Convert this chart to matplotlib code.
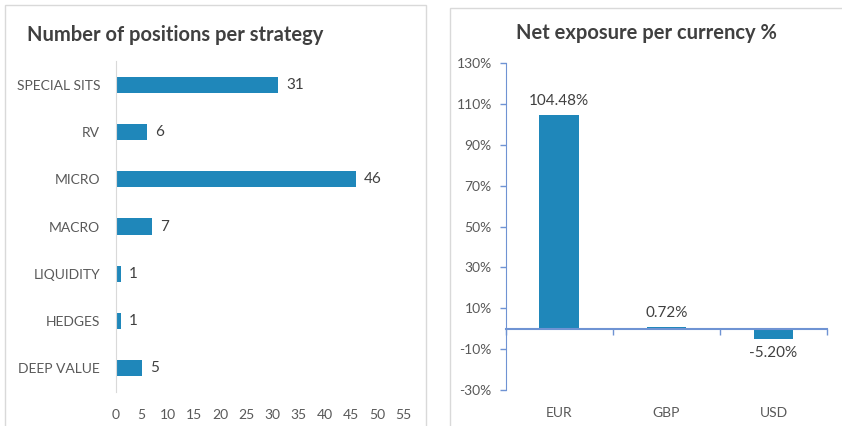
import matplotlib
matplotlib.use('Agg')
import matplotlib.pyplot as plt
from matplotlib.patches import Rectangle
from matplotlib.ticker import FuncFormatter

# Data
strategies = ['SPECIAL SITS', 'RV', 'MICRO', 'MACRO', 'LIQUIDITY', 'HEDGES', 'DEEP VALUE']
positions = [31, 6, 46, 7, 1, 1, 5]

currencies = ['EUR', 'GBP', 'USD']
exposure_pct = [104.48, 0.72, -5.20]

plt.rcParams['font.family'] = ['Lato', 'DejaVu Sans']

bar_color = '#1f87ba'
title_color = '#404040'
label_color = '#595959'
axis_blue = '#6f93d3'
border_grey = '#d9d9d9'

fig = plt.figure(figsize=(8.42, 4.26), dpi=100)

# Panel frames
fig.patches.append(Rectangle((0.006, -0.02), 0.5, 1.008, transform=fig.transFigure,
                             fill=False, edgecolor=border_grey, linewidth=1.0))
fig.patches.append(Rectangle((0.5344, -0.02), 0.5, 1.001, transform=fig.transFigure,
                             fill=False, edgecolor=border_grey, linewidth=1.0))

# Left: positions per strategy
ax1 = fig.add_axes([0.1372, 0.0798, 0.3414, 0.777])
ypos = list(range(len(strategies)))[::-1]
bars = ax1.barh(ypos, positions, height=0.34, color=bar_color)
ax1.bar_label(bars, labels=[str(v) for v in positions], padding=6,
              fontsize=11, color=title_color)
ax1.set_yticks(ypos)
ax1.set_yticklabels(strategies)
ax1.set_ylim(-0.5, len(strategies) - 0.5)
ax1.set_xlim(0, 55)
ax1.set_xticks(range(0, 56, 5))
ax1.tick_params(axis='y', length=0, pad=11, labelsize=10, labelcolor=label_color)
ax1.tick_params(axis='x', length=0, pad=12, labelsize=10, labelcolor=label_color)
for side in ['top', 'right', 'bottom']:
    ax1.spines[side].set_visible(False)
ax1.spines['left'].set_color(border_grey)
fig.text(0.032, 0.918, 'Number of positions per strategy', ha='left', va='center',
         fontsize=14.5, fontweight='bold', color=title_color)

# Right: net exposure per currency
ax2 = fig.add_axes([0.6006, 0.0845, 0.3816, 0.7675])
xpos = list(range(len(currencies)))
bars2 = ax2.bar(xpos, exposure_pct, width=0.37, color=bar_color, zorder=1)
ax2.bar_label(bars2, labels=[f'{v:.2f}%' for v in exposure_pct], padding=5,
              fontsize=11, color=title_color)
ax2.set_xlim(-0.5, len(currencies) - 0.5)
ax2.set_ylim(-30, 130)
ax2.set_yticks(range(-30, 131, 20))
ax2.yaxis.set_major_formatter(FuncFormatter(lambda v, _: f'{v:.0f}%'))
ax2.set_xticks(xpos)
ax2.set_xticklabels(currencies)
ax2.tick_params(axis='x', length=0, pad=12, labelsize=10, labelcolor=label_color)
ax2.tick_params(axis='y', length=4, width=1, color=axis_blue, pad=6,
                labelsize=10, labelcolor=label_color)
for side in ['top', 'right', 'bottom']:
    ax2.spines[side].set_visible(False)
ax2.spines['left'].set_color(axis_blue)

# Category axis drawn along zero
zero_frac = (0 - ax2.get_ylim()[0]) / (ax2.get_ylim()[1] - ax2.get_ylim()[0])
zero_axis = ax2.secondary_xaxis(zero_frac)
zero_axis.set_xticks([x - 0.5 for x in xpos] + [xpos[-1] + 0.5])
zero_axis.set_xticklabels([])
zero_axis.tick_params(length=4, width=1, color=axis_blue)
zero_axis.spines['bottom'].set_color(axis_blue)
zero_axis.spines['bottom'].set_linewidth(1.5)
zero_axis.set_zorder(3)

fig.text(0.768, 0.922, 'Net exposure per currency %', ha='center', va='center',
         fontsize=14.5, fontweight='bold', color=title_color)

fig.savefig('out.png', dpi=100, facecolor='white')
